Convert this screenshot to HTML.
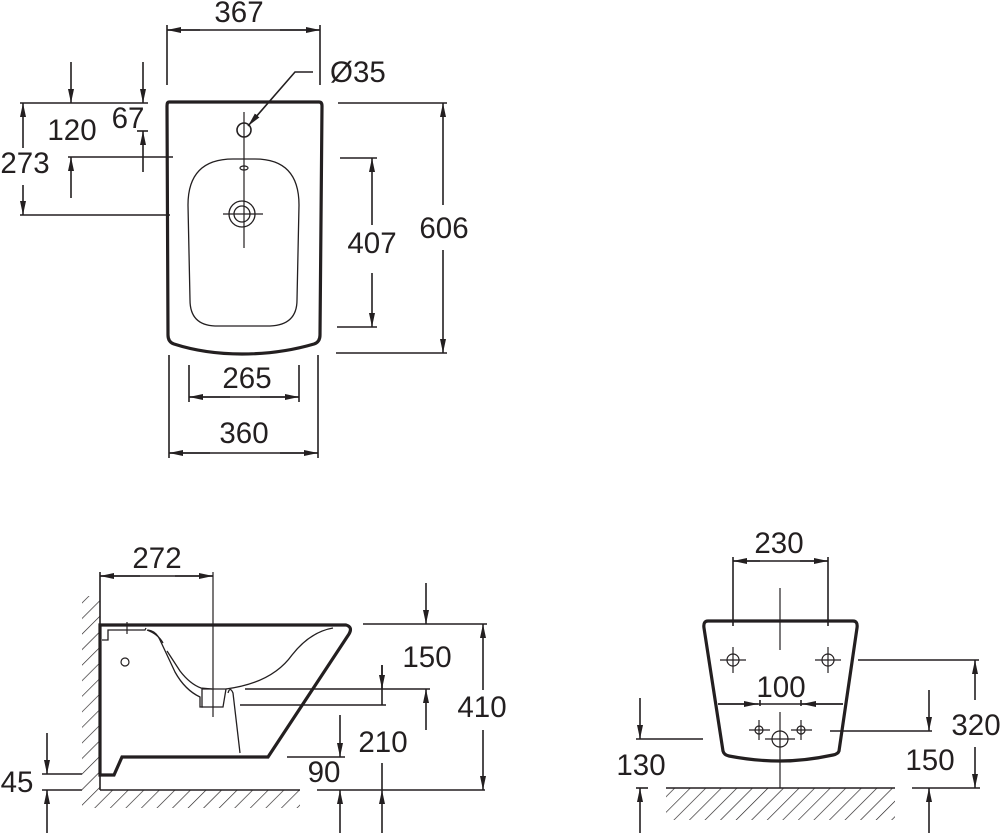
<!DOCTYPE html>
<html><head><meta charset="utf-8"><style>
html,body{margin:0;padding:0;background:#fff;}
svg{display:block;}
text{font-family:"Liberation Sans",sans-serif;font-size:29.5px;fill:#231f20;}
</style></head><body>
<svg width="1000" height="833" viewBox="0 0 1000 833" xmlns="http://www.w3.org/2000/svg">
<defs>
<marker id="a" viewBox="0 0 14 6" refX="14" refY="3" markerWidth="14" markerHeight="6" markerUnits="userSpaceOnUse" orient="auto"><path d="M0,0 L14,3 L0,6 Z" fill="#231f20"/></marker>
<pattern id="h" patternUnits="userSpaceOnUse" width="11" height="11" patternTransform="rotate(45)"><line x1="0" y1="0" x2="0" y2="11" stroke="#231f20" stroke-width="1.3"/></pattern>
</defs>
<g stroke="#231f20" stroke-width="1.6" fill="none">
<!-- TOP VIEW -->
<line x1="167" y1="25" x2="167" y2="85"/><line x1="320" y1="25" x2="320" y2="85"/>
<line x1="200" y1="30" x2="167" y2="30" marker-end="url(#a)"/><line x1="280" y1="30" x2="320" y2="30" marker-end="url(#a)"/>
<line x1="167" y1="30" x2="320" y2="30"/>
<path d="M169,102 L319,102 Q322,102 322,106 L320,335 Q320,342 314,344 Q280,354 242,354 Q205,354 174,344 Q168,342 168,335 L167,106 Q167,102 169,102 Z" stroke-width="3.2"/>
<path d="M233,159 L255,159 Q299,159 299,205 L297,300 Q297,325 270,326 L215,326 Q190,325 190,300 L188,205 Q188,159 233,159 Z" stroke-width="1.3"/>
<circle cx="244" cy="130" r="7"/>
<line x1="244" y1="112" x2="244" y2="248" stroke-width="1.2"/>
<ellipse cx="244" cy="168" rx="4" ry="2" stroke-width="1.2"/>
<circle cx="242" cy="214" r="13" stroke-width="1.3"/><circle cx="242" cy="214" r="8" stroke-width="1.3"/>
<line x1="223" y1="214" x2="263" y2="214" stroke-width="1.2"/>
<path d="M313,72 L295,72 L248,126" marker-end="url(#a)"/>
<line x1="20" y1="103" x2="148" y2="103"/><line x1="68" y1="157" x2="173" y2="157"/><line x1="20" y1="215" x2="170" y2="215"/>
<line x1="71" y1="62" x2="71" y2="103" marker-end="url(#a)"/><line x1="71" y1="198" x2="71" y2="157" marker-end="url(#a)"/>
<line x1="143" y1="62" x2="143" y2="103" marker-end="url(#a)"/><line x1="143" y1="172" x2="143" y2="131" marker-end="url(#a)"/>
<line x1="137" y1="131" x2="148" y2="131"/>
<line x1="23" y1="148" x2="23" y2="103" marker-end="url(#a)"/><line x1="23" y1="185" x2="23" y2="215" marker-end="url(#a)"/>
<line x1="340" y1="158" x2="377" y2="158"/><line x1="337" y1="327" x2="377" y2="327"/>
<line x1="372" y1="225" x2="372" y2="158" marker-end="url(#a)"/><line x1="372" y1="273" x2="372" y2="327" marker-end="url(#a)"/>
<line x1="338" y1="103" x2="447" y2="103"/><line x1="336" y1="353" x2="447" y2="353"/>
<line x1="443" y1="205" x2="443" y2="103" marker-end="url(#a)"/><line x1="443" y1="250" x2="443" y2="353" marker-end="url(#a)"/>
<line x1="189" y1="365" x2="189" y2="402"/><line x1="299" y1="365" x2="299" y2="402"/>
<line x1="189" y1="397" x2="299" y2="397"/>
<line x1="230" y1="397" x2="189" y2="397" marker-end="url(#a)"/><line x1="260" y1="397" x2="299" y2="397" marker-end="url(#a)"/>
<line x1="169" y1="355" x2="169" y2="458"/><line x1="318" y1="355" x2="318" y2="458"/>
<line x1="169" y1="453" x2="318" y2="453"/>
<line x1="210" y1="453" x2="169" y2="453" marker-end="url(#a)"/><line x1="280" y1="453" x2="318" y2="453" marker-end="url(#a)"/>

<!-- SIDE VIEW -->
<rect x="82" y="596" width="18" height="212" fill="url(#h)" stroke="none"/>
<rect x="100" y="790" width="200" height="18" fill="url(#h)" stroke="none"/>
<line x1="100" y1="572" x2="100" y2="790"/><line x1="100" y1="790" x2="300" y2="790"/>
<line x1="213" y1="572" x2="213" y2="717" stroke-width="1.2"/>
<line x1="100" y1="576" x2="213" y2="576"/>
<line x1="140" y1="576" x2="100" y2="576" marker-end="url(#a)"/><line x1="175" y1="576" x2="213" y2="576" marker-end="url(#a)"/>
<path d="M100,625 L346,625 Q353,627 349,634 L268,757 L122,757 L114,775 L100,775 Z" stroke-width="3.2"/>
<path d="M102,640 L108,640 L108,630 L145,630 L146,628" stroke-width="1.3"/>
<line x1="127" y1="622" x2="127" y2="634" stroke-width="1.2"/>
<circle cx="125" cy="662" r="4" stroke-width="1.2"/>
<path d="M147,630 Q158,634 163,643" stroke-width="1.3"/>
<path d="M148,630 Q156,631 160,640 L175,672 Q185,690 200,697 L200,707 L203,707" stroke-width="1.3"/>
<path d="M167,651 L180,671 Q190,684 201,688 L212,689" stroke-width="1.3"/>
<path d="M202,689 L226,689 L223,707 L202,707 Z" stroke-width="1.3"/>
<path d="M333,628 Q310,632 292,655 Q272,683 226,689" stroke-width="1.3"/>
<path d="M228,693 Q230,686 233,693 L240,753" stroke-width="1.3"/>
<line x1="363" y1="624" x2="487" y2="624"/>
<line x1="426" y1="583" x2="426" y2="624" marker-end="url(#a)"/>
<line x1="426" y1="730" x2="426" y2="689" marker-end="url(#a)"/>
<line x1="245" y1="689" x2="430" y2="689"/><line x1="240" y1="705" x2="386" y2="705"/>
<line x1="382" y1="665" x2="382" y2="705"/>
<line x1="382" y1="665" x2="382" y2="689" marker-end="url(#a)"/>
<line x1="382" y1="763" x2="382" y2="790"/>
<line x1="382" y1="833" x2="382" y2="790" marker-end="url(#a)"/>
<line x1="340" y1="715" x2="340" y2="757" marker-end="url(#a)"/>
<line x1="287" y1="757" x2="345" y2="757"/>
<line x1="340" y1="833" x2="340" y2="790" marker-end="url(#a)"/>
<line x1="317" y1="790" x2="485" y2="790"/>
<line x1="483" y1="690" x2="483" y2="624" marker-end="url(#a)"/>
<line x1="483" y1="730" x2="483" y2="790" marker-end="url(#a)"/>
<line x1="42" y1="774" x2="82" y2="774"/><line x1="42" y1="790" x2="82" y2="790"/>
<line x1="47" y1="733" x2="47" y2="774" marker-end="url(#a)"/>
<line x1="47" y1="833" x2="47" y2="790" marker-end="url(#a)"/>

<!-- FRONT VIEW -->
<rect x="666" y="788" width="229" height="32" fill="url(#h)" stroke="none"/>
<line x1="666" y1="788" x2="895" y2="788"/>
<line x1="733" y1="557" x2="733" y2="626"/><line x1="828" y1="557" x2="828" y2="626"/>
<line x1="733" y1="561" x2="828" y2="561"/>
<line x1="760" y1="561" x2="733" y2="561" marker-end="url(#a)"/><line x1="800" y1="561" x2="828" y2="561" marker-end="url(#a)"/>
<path d="M708,621 L853,621 Q858,621 857,628 L839,751 Q838,754 833,755 Q805,761 780,761 Q755,761 729,756 Q724,755 723,751 L704,628 Q703,621 708,621 Z" stroke-width="3.2"/>
<line x1="780" y1="588" x2="780" y2="650" stroke-width="1.2"/>
<line x1="780" y1="712" x2="780" y2="788" stroke-width="1.2"/>
<g stroke-width="1.2">
<circle cx="733" cy="660" r="6"/><line x1="720" y1="660" x2="746" y2="660"/><line x1="733" y1="647" x2="733" y2="673"/>
<circle cx="828" cy="660" r="6"/><line x1="815" y1="660" x2="841" y2="660"/><line x1="828" y1="647" x2="828" y2="673"/>
<circle cx="759" cy="730" r="4"/><line x1="749" y1="730" x2="770" y2="730"/><line x1="759" y1="720" x2="759" y2="740"/>
<circle cx="801" cy="730" r="4"/><line x1="791" y1="730" x2="812" y2="730"/><line x1="801" y1="720" x2="801" y2="740"/>
<circle cx="780" cy="739" r="8"/><line x1="765" y1="739" x2="795" y2="739"/>
</g>
<line x1="718" y1="704" x2="843" y2="704"/>
<line x1="718" y1="704" x2="758" y2="704" marker-end="url(#a)"/>
<line x1="843" y1="704" x2="802" y2="704" marker-end="url(#a)"/>
<line x1="760" y1="700" x2="760" y2="706"/><line x1="801" y1="700" x2="801" y2="706"/>
<line x1="858" y1="660" x2="979" y2="660"/>
<line x1="975" y1="700" x2="975" y2="660" marker-end="url(#a)"/>
<line x1="975" y1="747" x2="975" y2="788" marker-end="url(#a)"/>
<line x1="912" y1="788" x2="980" y2="788"/>
<line x1="830" y1="731" x2="932" y2="731"/>
<line x1="929" y1="690" x2="929" y2="731" marker-end="url(#a)"/>
<line x1="929" y1="833" x2="929" y2="788" marker-end="url(#a)"/>
<line x1="636" y1="739" x2="703" y2="739"/>
<line x1="640" y1="698" x2="640" y2="739" marker-end="url(#a)"/>
<line x1="640" y1="833" x2="640" y2="788" marker-end="url(#a)"/>
<line x1="636" y1="788" x2="648" y2="788"/>
</g>
<g text-anchor="middle">
<text x="239" y="22">367</text>
<text x="72" y="140">120</text>
<text x="128" y="128">67</text>
<text x="25" y="173">273</text>
<text x="372" y="253">407</text>
<text x="444" y="238">606</text>
<text x="247" y="388">265</text>
<text x="244" y="443">360</text>
<text x="157" y="568">272</text>
<text x="427" y="667">150</text>
<text x="482" y="717">410</text>
<text x="383" y="752">210</text>
<text x="324" y="782">90</text>
<text x="17" y="792">45</text>
<text x="779" y="553">230</text>
<text x="781" y="697">100</text>
<text x="976" y="735">320</text>
<text x="930" y="770">150</text>
<text x="641" y="775">130</text>
</g>
<text x="330" y="82">Ø35</text>
</svg>
</body></html>
